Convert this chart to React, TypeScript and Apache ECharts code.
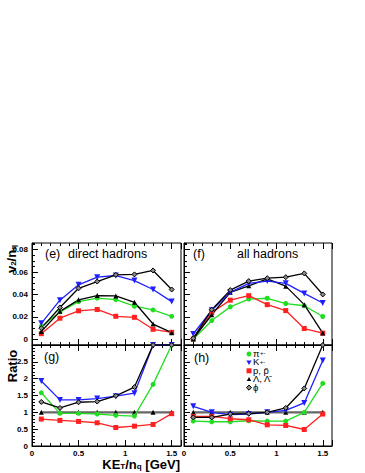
import React, { useEffect, useRef } from "react";
import * as echarts from "echarts";

// ---------------- data ----------------
const xVals = [0.1, 0.3, 0.5, 0.7, 0.9, 1.1, 1.3, 1.5];

// (e) direct hadrons, v2/nq
const directPi = [0.0115, 0.0245, 0.0337, 0.0368, 0.0355, 0.0296, 0.0263, 0.0206];
const directK = [0.0143, 0.035, 0.0487, 0.0555, 0.057, 0.0525, 0.0445, 0.0337];
const directP = [0.0051, 0.0189, 0.0255, 0.0267, 0.0206, 0.0197, 0.009, 0.0063];
const directLambda = [0.007, 0.025, 0.0353, 0.0391, 0.0388, 0.0331, 0.0137, 0.006];
const directPhi = [0.01, 0.0285, 0.0456, 0.0516, 0.0576, 0.058, 0.0615, 0.0445];

// (f) all hadrons, v2/nq
const allPi = [0.0, 0.0168, 0.029, 0.036, 0.0367, 0.032, 0.03, 0.0204];
const allK = [0.0048, 0.026, 0.042, 0.05, 0.052, 0.05, 0.041, 0.0325];
const allP = [0.0004, 0.024, 0.035, 0.039, 0.031, 0.0257, 0.0097, 0.0056];
const allLambda = [0.0004, 0.022, 0.042, 0.0478, 0.054, 0.0475, 0.031, 0.0056];
const allPhi = [0.001, 0.0265, 0.044, 0.052, 0.0546, 0.0555, 0.0589, 0.0401];

// (g) ratio, direct hadrons
const ratioDirectPi = [1.58, 0.97, 0.97, 0.95, 0.91, 0.89, 1.83, 3.0];
const ratioDirectK = [1.93, 1.37, 1.37, 1.41, 1.48, 1.57, 3.0, 3.0];
const ratioDirectP = [0.8, 0.76, 0.73, 0.69, 0.55, 0.59, 0.64, 0.96];
const ratioDirectLambda = [1, 1, 1, 1, 1, 1, 1, 1];
const ratioDirectPhi = [1.31, 1.13, 1.3, 1.32, 1.49, 1.75, 3.0, 3.0];

// (h) ratio, all hadrons
const ratioAllPi = [0.74, 0.72, 0.72, 0.75, 0.74, 0.74, 1.0, 1.86];
const ratioAllK = [1.18, 1.0, 0.93, 0.95, 1.0, 1.06, 1.28, 2.54];
const ratioAllP = [0.88, 0.88, 0.81, 0.78, 0.63, 0.61, 0.49, 0.95];
const ratioAllLambda = [1, 1, 1, 1, 1, 1, 1, 1];
const ratioAllPhi = [0.85, 0.85, 0.95, 0.96, 1.0, 1.13, 1.71, 3.0];

const xTickLabels = [0, 0.5, 1, 1.5];
const v2TickLabels = [0, 0.02, 0.04, 0.06, 0.08];

const FONT = "Liberation Sans";
const GREEN = "#22dd22";
const BLUE = "#2020ff";
const RED = "#ff2020";

type Sty = { color: string; symbol: string; size: number; rotate?: number; fill?: string };
const STY: Record<string, Sty> = {
  pi: { color: GREEN, symbol: "circle", size: 5 },
  K: { color: BLUE, symbol: "triangle", size: 6, rotate: 180 },
  p: { color: RED, symbol: "rect", size: 5 },
  L: { color: "#000", symbol: "triangle", size: 5 },
  phi: { color: "#000", symbol: "diamond", size: 5, fill: "#888" },
};

const GRIDS = [
  { left: 32, top: 243, width: 149, height: 102 },
  { left: 184, top: 243, width: 148, height: 102 },
  { left: 32, top: 345, width: 149, height: 101 },
  { left: 184, top: 345, width: 148, height: 101 },
];

function makeSeries(key: string, vals: number[], gi: number, ratioRef = false) {
  const s = STY[key];
  return {
    type: "line",
    name: key,
    xAxisIndex: gi,
    yAxisIndex: gi,
    data: xVals.map((x, i) => [x, vals[i]]),
    symbol: s.symbol,
    symbolSize: s.size,
    symbolRotate: s.rotate || 0,
    clip: true,
    z: ratioRef ? 1 : 3,
    lineStyle: ratioRef ? { color: "#666", width: 2.2 } : { color: s.color, width: 1.3 },
    itemStyle: {
      color: s.fill || s.color,
      borderColor: s.color,
      borderWidth: s.fill ? 1 : 0,
      opacity: 1,
    },
  };
}

function xAxis(gi: number, pos: "bottom" | "top", labels: boolean) {
  return {
    type: "value",
    gridIndex: gi,
    position: pos,
    min: 0,
    max: 1.6,
    interval: 0.5,
    axisLine: { show: pos === "bottom", onZero: false, lineStyle: { color: "#000", width: 1 } },
    axisTick: { show: true, inside: true, length: 6, lineStyle: { color: "#000" } },
    minorTick: { show: true, splitNumber: 5, length: 3, lineStyle: { color: "#000" } },
    splitLine: { show: false },
    minorSplitLine: { show: false },
    axisLabel: {
      show: labels,
      customValues: xTickLabels,
      formatter: (v: number) => String(v),
      fontSize: 8,
      fontWeight: "bold",
      fontFamily: FONT,
      color: "#000",
      margin: 3,
    },
  };
}

function v2AxisMajor(gi: number, labels: boolean) {
  return {
    type: "value",
    gridIndex: gi,
    position: "left",
    min: -0.005,
    max: 0.086,
    axisLine: { show: true, onZero: false, lineStyle: { color: "#000", width: 1 } },
    axisTick: { show: true, inside: true, length: 6, customValues: v2TickLabels, lineStyle: { color: "#000" } },
    splitLine: { show: false },
    axisLabel: {
      show: labels,
      customValues: v2TickLabels,
      formatter: (v: number) => String(Math.round(v * 100) / 100),
      fontSize: 8,
      fontWeight: "bold",
      fontFamily: FONT,
      color: "#000",
      margin: 4,
    },
  };
}

function v2AxisMinor(gi: number) {
  return {
    type: "value",
    gridIndex: gi,
    position: "left",
    min: -0.005,
    max: 0.086,
    interval: 0.005,
    axisLine: { show: false },
    axisTick: { show: true, inside: true, length: 3, lineStyle: { color: "#000" } },
    splitLine: { show: false },
    axisLabel: { show: false },
  };
}

function ratioAxis(gi: number, labels: boolean) {
  return {
    type: "value",
    gridIndex: gi,
    position: "left",
    min: 0,
    max: 3,
    interval: 0.5,
    axisLine: { show: true, onZero: false, lineStyle: { color: "#000", width: 1 } },
    axisTick: { show: true, inside: true, length: 6, lineStyle: { color: "#000" } },
    minorTick: { show: true, splitNumber: 5, length: 3, lineStyle: { color: "#000" } },
    splitLine: { show: false },
    minorSplitLine: { show: false },
    axisLabel: {
      show: labels,
      showMaxLabel: false,
      formatter: (v: number) => String(v),
      fontSize: 8,
      fontWeight: "bold",
      fontFamily: FONT,
      color: "#000",
      margin: 4,
    },
  };
}

function txt(x: number, y: number, text: string, extra: any = {}) {
  return {
    type: "text",
    x,
    y,
    style: {
      text,
      fontFamily: FONT,
      fontSize: 12.5,
      fill: "#000",
      textAlign: "left",
      textVerticalAlign: "middle",
      ...extra,
    },
  };
}

const subRich = (size: number) => ({
  m: { fontSize: size, fontWeight: "bold", fontFamily: FONT, lineHeight: size, verticalAlign: "top", fill: "#000" },
  s: { fontSize: size * 0.62, fontWeight: "bold", fontFamily: FONT, lineHeight: size * 0.62, padding: [size * 0.6, 0, 0, 0], verticalAlign: "bottom", fill: "#000" },
});

const LEGEND_LABELS = [
  "{m|\u03c0}{u|+-}",
  "{m|K}{u|+-}",
  "{m|p, p\u0304}",
  "{m|\u039b, \u039b\u0304}",
  "{m|\u03d5}",
];

function legendGraphics() {
  const mx = 249;
  const tx = 253;
  const step = 8.4;
  const y0 = 354;
  const rows = [0, 1, 2, 3, 4].map((i) => y0 + i * step);
  const g: any[] = [];
  g.push({ type: "circle", shape: { cx: mx, cy: rows[0], r: 2.5 }, style: { fill: GREEN } });
  g.push({
    type: "polygon",
    shape: { points: [[mx - 2.6, rows[1] - 2], [mx + 2.6, rows[1] - 2], [mx, rows[1] + 2.6]] },
    style: { fill: BLUE },
  });
  g.push({ type: "rect", shape: { x: mx - 2.5, y: rows[2] - 2.5, width: 5, height: 5 }, style: { fill: RED } });
  g.push({
    type: "polygon",
    shape: { points: [[mx - 2.2, rows[3] + 1.8], [mx + 2.2, rows[3] + 1.8], [mx, rows[3] - 2.2]] },
    style: { fill: "#000" },
  });
  g.push({
    type: "polygon",
    shape: { points: [[mx - 2.6, rows[4]], [mx, rows[4] - 2.6], [mx + 2.6, rows[4]], [mx, rows[4] + 2.6]] },
    style: { fill: "#888", stroke: "#000", lineWidth: 1 },
  });
  g.push({
    type: "text",
    x: tx,
    y: y0 - step / 2 + 0.4,
    style: {
      text: LEGEND_LABELS.join("\n"),
      fontFamily: FONT,
      fontSize: 9.5,
      fill: "#000",
      textAlign: "left",
      textVerticalAlign: "top",
      rich: {
        m: { fontFamily: FONT, fontSize: 9.5, lineHeight: step, verticalAlign: "bottom", fill: "#000" },
        u: { fontFamily: FONT, fontSize: 6, lineHeight: 6, verticalAlign: "top", fill: "#000", padding: [0, 0, 0, 0.5] },
      },
    },
  });
  return g;
}

export default function App() {
  const ref = useRef<HTMLDivElement>(null);
  useEffect(() => {
    if (!ref.current) return;
    const chart = echarts.init(ref.current, null, { renderer: "svg" });
    const option: any = {
      animation: false,
      backgroundColor: "#fff",
      grid: GRIDS.map((g) => ({ ...g, show: true, borderColor: "#000", borderWidth: 1, backgroundColor: "transparent", containLabel: false })),
      xAxis: [
        xAxis(0, "bottom", false),
        xAxis(1, "bottom", false),
        xAxis(2, "bottom", true),
        xAxis(3, "bottom", true),
        xAxis(0, "top", false),
        xAxis(1, "top", false),
        xAxis(2, "top", false),
        xAxis(3, "top", false),
      ],
      yAxis: [
        v2AxisMajor(0, true),
        v2AxisMajor(1, false),
        ratioAxis(2, true),
        ratioAxis(3, false),
        v2AxisMinor(0),
        v2AxisMinor(1),
      ],
      series: [
        makeSeries("pi", directPi, 0),
        makeSeries("p", directP, 0),
        makeSeries("L", directLambda, 0),
        makeSeries("K", directK, 0),
        makeSeries("phi", directPhi, 0),
        makeSeries("pi", allPi, 1),
        makeSeries("p", allP, 1),
        makeSeries("L", allLambda, 1),
        makeSeries("K", allK, 1),
        makeSeries("phi", allPhi, 1),
        makeSeries("L", ratioDirectLambda, 2, true),
        makeSeries("pi", ratioDirectPi, 2),
        makeSeries("p", ratioDirectP, 2),
        makeSeries("K", ratioDirectK, 2),
        makeSeries("phi", ratioDirectPhi, 2),
        makeSeries("L", ratioAllLambda, 3, true),
        makeSeries("pi", ratioAllPi, 3),
        makeSeries("p", ratioAllP, 3),
        makeSeries("K", ratioAllK, 3),
        makeSeries("phi", ratioAllPhi, 3),
      ],
      graphic: [
        txt(45, 254, "(e)"),
        txt(68, 254, "direct hadrons"),
        txt(193, 254, "(f)"),
        txt(237, 254, "all hadrons"),
        txt(44, 357, "(g)"),
        txt(194, 358, "(h)"),
        ...legendGraphics(),
        {
          type: "text",
          x: 11,
          y: 259,
          rotation: Math.PI / 2,
          style: {
            text: "{m|v}{s|2}{m|/n}{s|q}",
            rich: subRich(13),
            fontFamily: FONT,
            fontWeight: "bold",
            fontSize: 13,
            textAlign: "center",
            textVerticalAlign: "middle",
          },
        },
        {
          type: "text",
          x: 12,
          y: 366,
          rotation: Math.PI / 2,
          style: {
            text: "Ratio",
            fontFamily: FONT,
            fontWeight: "bold",
            fontSize: 13,
            fill: "#000",
            textAlign: "center",
            textVerticalAlign: "middle",
          },
        },
        {
          type: "text",
          x: 180,
          y: 464,
          style: {
            text: "{m|KE}{s|T}{m|/n}{s|q}{m| [GeV]}",
            rich: subRich(13),
            fontFamily: FONT,
            fontWeight: "bold",
            fontSize: 13,
            textAlign: "right",
            textVerticalAlign: "middle",
          },
        },
      ],
    };
    chart.setOption(option);
    return () => chart.dispose();
  }, []);
  return <div ref={ref} style={{ position: "fixed", left: 0, top: 0, width: 365, height: 473 }} />;
}
